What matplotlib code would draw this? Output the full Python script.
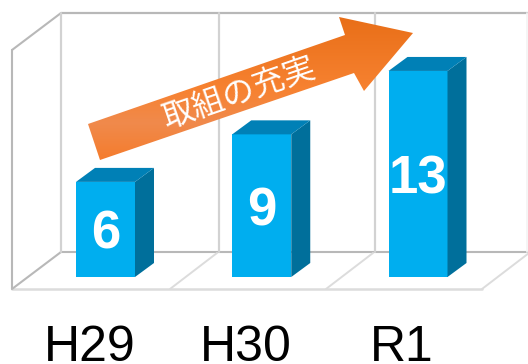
"""Three yearly counts as a pseudo-3D column chart with a rising arrow on top."""
import matplotlib
matplotlib.use("Agg")
import matplotlib.pyplot as plt
from matplotlib.colors import LinearSegmentedColormap
from matplotlib.patches import Polygon
from matplotlib.transforms import ScaledTranslation
import numpy as np

years = ["H29", "H30", "R1"]
counts = [6, 9, 13]
arrow_label = "取組の充実"

FRONT = "#00aeef"
TOP = "#0080b6"
SIDE = "#006f9b"
WALL_DARK = "#b8b8b8"
WALL = "#d2d2d2"
FLOOR = "#dcdcdc"

W, H = 528, 364
BASE_PX = 277        # pixel row of value 0
PX_PER_UNIT = 15.85  # pixels per count
PX_PER_CAT = 156.25  # pixels between columns
X0_PX = 105.5        # pixel column of the first category
BAR_W = 59 / PX_PER_CAT
DX = 19 / PX_PER_CAT  # column depth offset
DY = 14 / PX_PER_UNIT


def data_x(px):
    return (px - X0_PX) / PX_PER_CAT


def data_y(py):
    return (BASE_PX - py) / PX_PER_UNIT


def line(ax, p, q, color, lw=1.5):
    ax.plot([data_x(p[0]), data_x(q[0])], [data_y(p[1]), data_y(q[1])],
            color=color, lw=lw, clip_on=False, solid_capstyle="round", zorder=1)


def walls(ax):
    # box floor, back wall and left wall
    line(ax, (61, 13), (528, 13), WALL_DARK, 1.6)
    line(ax, (12, 50), (61, 13), WALL_DARK)
    line(ax, (12, 50), (12, 289), WALL_DARK)
    line(ax, (61, 252), (528, 252), WALL_DARK)
    line(ax, (12, 289), (482, 289), FLOOR, 1.8)
    line(ax, (12, 289), (61, 252), WALL_DARK)
    for x in [61, 219, 375]:
        line(ax, (x, 13), (x, 252), WALL, 1.6)
    line(ax, (527, 13), (527, 252), "#f4f4f4", 1.2)
    for x in [170, 326, 482]:
        line(ax, (x, 289), (x + 47, 253), FLOOR, 1.4)


def columns(ax):
    for i, v in enumerate(counts):
        l, r = i - BAR_W / 2, i + BAR_W / 2
        ax.add_patch(Polygon([(l, 0), (r, 0), (r, v), (l, v)], fc=FRONT, ec="none",
                             clip_on=False, zorder=3))
        ax.add_patch(Polygon([(r, 0), (r + DX, DY), (r + DX, v + DY), (r, v)], fc=SIDE,
                             ec="none", clip_on=False, zorder=3))
        ax.add_patch(Polygon([(l, v), (r, v), (r + DX, v + DY), (l + DX, v + DY)], fc=TOP,
                             ec="none", clip_on=False, zorder=3))
        ax.text(i, v / 2 - 0.35, str(v), color="white", fontsize=38,
                fontweight="bold", ha="center", va="center", zorder=4)


def arrow(ax):
    outline = [(88, 124), (345, 35), (339, 17), (413, 33), (364, 91), (354, 73), (100, 160)]
    poly = Polygon([(data_x(x), data_y(y)) for x, y in outline], fc="none", ec="none",
                   transform=ax.transData, clip_on=False)
    ax.add_patch(poly)
    # vertical shading: dark on the head, lighter through the shaft
    cmap = LinearSegmentedColormap.from_list(
        "arrow", [(0.0, "#e86e17"), (0.5, "#f78231"), (0.72, "#f08a4c"), (1.0, "#f67a28")])
    grad = np.linspace(0, 1, 256).reshape(-1, 1)
    im = ax.imshow(grad, cmap=cmap, aspect="auto", zorder=5, clip_on=True,
                   extent=(data_x(80), data_x(420), data_y(165), data_y(15)))
    im.set_clip_path(poly)
    ax.text(data_x(239), data_y(94), arrow_label, color="white", fontsize=23,
            family=["Noto Sans CJK JP", "DejaVu Sans"], rotation=19,
            rotation_mode="anchor", ha="center", va="center", zorder=6)


plt.rcParams["font.family"] = ["Liberation Sans", "DejaVu Sans"]
fig = plt.figure(figsize=(W / 100, H / 100), dpi=100)
ax = fig.add_axes([0, (H - BASE_PX) / H, 1, BASE_PX / H])
walls(ax)
columns(ax)
arrow(ax)
ax.set_xlim(data_x(0), data_x(W))
ax.set_ylim(0, data_y(0))
ax.set_xticks(range(len(years)), years)
ax.set_yticks([])
ax.tick_params(axis="x", length=0, labelsize=36, pad=34.5)
# year labels sit a little left of their columns
shift = ScaledTranslation(-16 / 100, 0, fig.dpi_scale_trans)
for lab in ax.get_xticklabels():
    lab.set_transform(lab.get_transform() + shift)
for s in ax.spines.values():
    s.set_visible(False)
ax.patch.set_visible(False)
fig.savefig("out.png", dpi=100)
